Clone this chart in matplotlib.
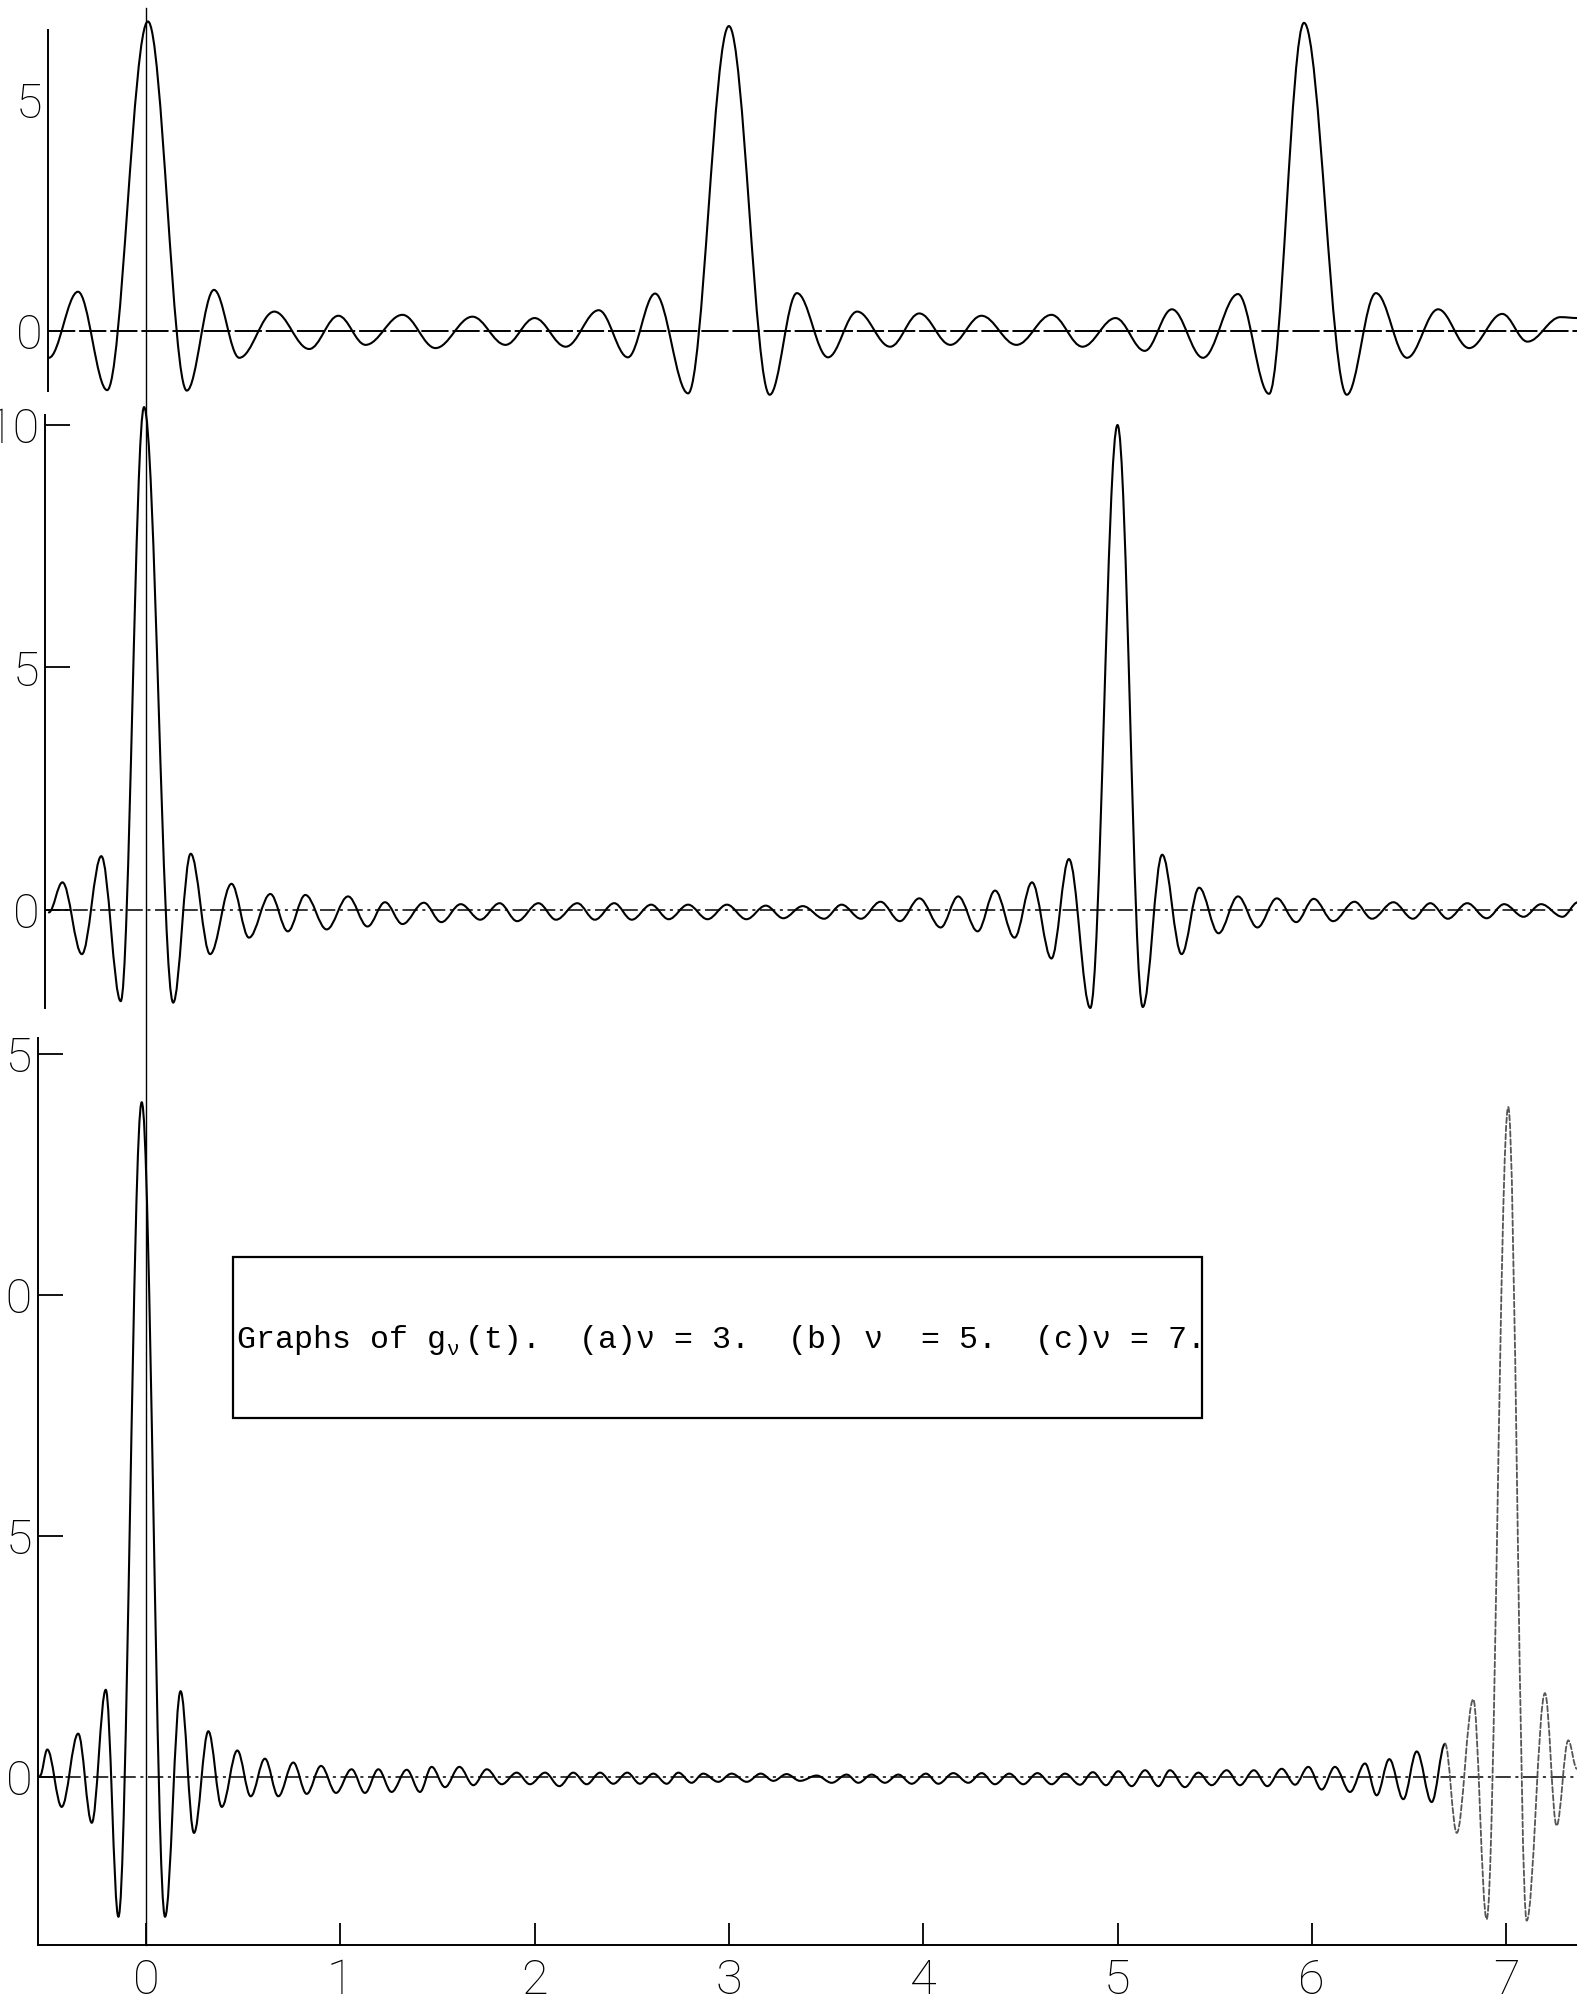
import matplotlib
matplotlib.use("Agg")
import matplotlib.pyplot as plt
import matplotlib.transforms as mtransforms
from matplotlib.path import Path
from matplotlib.patches import PathPatch, Rectangle
from matplotlib.lines import Line2D

# -------------------------
# extrema of g_nu(t) (t, value)
# (a) nu = 3
ta = [-0.50, -0.35, -0.20, 0.01, 0.21, 0.35, 0.48, 0.66, 0.84, 0.99,
      1.13, 1.32, 1.49, 1.68, 1.85, 2.00, 2.16, 2.33, 2.48, 2.62,
      2.79, 3.00, 3.21, 3.35, 3.51, 3.66, 3.83, 3.98, 4.14, 4.30,
      4.48, 4.66, 4.82, 4.99, 5.14, 5.28, 5.44, 5.62, 5.78, 5.96,
      6.18, 6.33, 6.49, 6.65, 6.81, 6.98, 7.11, 7.28, 7.37]
ga = [-0.58, 0.85, -1.28, 6.70, -1.29, 0.89, -0.58, 0.42, -0.39, 0.33,
      -0.30, 0.35, -0.37, 0.31, -0.30, 0.28, -0.34, 0.45, -0.57, 0.81,
      -1.35, 6.60, -1.38, 0.82, -0.57, 0.42, -0.34, 0.38, -0.30, 0.33,
      -0.30, 0.35, -0.34, 0.28, -0.43, 0.47, -0.58, 0.80, -1.36, 6.67,
      -1.38, 0.82, -0.58, 0.47, -0.37, 0.37, -0.23, 0.30, 0.28]

# (b) nu = 5
tb = [-0.50, -0.43, -0.33, -0.23, -0.13, -0.01, 0.14, 0.23, 0.33, 0.44,
      0.53, 0.64, 0.73, 0.82, 0.93, 1.04, 1.14, 1.23, 1.32, 1.43,
      1.52, 1.62, 1.72, 1.82, 1.91, 2.02, 2.11, 2.22, 2.31, 2.41,
      2.50, 2.60, 2.69, 2.79, 2.89, 2.99, 3.09, 3.19, 3.28, 3.38,
      3.49, 3.58, 3.68, 3.78, 3.88, 3.98, 4.09, 4.18, 4.28, 4.37,
      4.47, 4.56, 4.66, 4.75, 4.86, 5.00, 5.13, 5.23, 5.33, 5.42,
      5.52, 5.62, 5.72, 5.82, 5.92, 6.01, 6.11, 6.22, 6.31, 6.42,
      6.52, 6.61, 6.70, 6.80, 6.90, 6.99, 7.09, 7.18, 7.29, 7.37]
gb = [-0.05, 0.57, -0.91, 1.11, -1.88, 10.37, -1.91, 1.16, -0.91, 0.54,
      -0.57, 0.33, -0.44, 0.31, -0.40, 0.28, -0.34, 0.16, -0.29, 0.15,
      -0.25, 0.12, -0.20, 0.14, -0.23, 0.14, -0.20, 0.14, -0.20, 0.14,
      -0.20, 0.11, -0.19, 0.11, -0.19, 0.11, -0.19, 0.09, -0.17, 0.08,
      -0.18, 0.11, -0.18, 0.17, -0.23, 0.24, -0.36, 0.28, -0.44, 0.40,
      -0.57, 0.57, -1.00, 1.05, -2.02, 10.00, -2.00, 1.14, -0.91, 0.46,
      -0.48, 0.28, -0.36, 0.24, -0.25, 0.23, -0.23, 0.17, -0.18, 0.16,
      -0.18, 0.14, -0.18, 0.14, -0.17, 0.12, -0.14, 0.12, -0.14, 0.16]

# (c) nu = 7
tc = [-0.545, -0.508, -0.434, -0.349, -0.279, -0.207, -0.142, -0.022, 0.098, 0.178,
      0.247, 0.321, 0.390, 0.470, 0.539, 0.612, 0.681, 0.758, 0.827, 0.901,
      0.978, 1.058, 1.127, 1.196, 1.264, 1.342, 1.410, 1.470, 1.539, 1.613,
      1.685, 1.754, 1.831, 1.908, 1.976, 2.054, 2.127, 2.199, 2.268, 2.337,
      2.405, 2.477, 2.542, 2.611, 2.680, 2.740, 2.808, 2.868, 2.945, 3.014,
      3.092, 3.164, 3.229, 3.297, 3.366, 3.452, 3.529, 3.606, 3.666, 3.735,
      3.803, 3.872, 3.941, 4.014, 4.078, 4.155, 4.232, 4.301, 4.369, 4.443,
      4.515, 4.588, 4.661, 4.730, 4.807, 4.873, 4.941, 5.004, 5.073, 5.142,
      5.210, 5.270, 5.347, 5.416, 5.485, 5.562, 5.630, 5.702, 5.771, 5.845,
      5.914, 5.982, 6.051, 6.119, 6.197, 6.274, 6.334, 6.399, 6.471, 6.540,
      6.617, 6.686, 6.746, 6.831, 6.900, 7.011, 7.106, 7.200, 7.260, 7.320,
      7.364]
gc = [0.03, 0.57, -0.62, 0.90, -0.95, 1.81, -2.90, 14.00, -2.90, 1.78,
      -1.16, 0.95, -0.62, 0.55, -0.40, 0.38, -0.40, 0.30, -0.35, 0.23,
      -0.33, 0.16, -0.33, 0.16, -0.31, 0.15, -0.31, 0.21, -0.21, 0.21,
      -0.17, 0.16, -0.15, 0.09, -0.15, 0.09, -0.19, 0.09, -0.15, 0.09,
      -0.14, 0.09, -0.14, 0.07, -0.14, 0.09, -0.12, 0.07, -0.10, 0.07,
      -0.10, 0.07, -0.08, 0.06, -0.08, 0.03, -0.12, 0.05, -0.12, 0.05,
      -0.12, 0.05, -0.14, 0.07, -0.14, 0.08, -0.12, 0.08, -0.15, 0.07,
      -0.15, 0.08, -0.15, 0.07, -0.16, 0.10, -0.17, 0.12, -0.19, 0.14,
      -0.19, 0.14, -0.21, 0.09, -0.17, 0.14, -0.17, 0.14, -0.19, 0.17,
      -0.16, 0.21, -0.26, 0.21, -0.31, 0.28, -0.38, 0.37, -0.46, 0.53,
      -0.52, 0.69, -1.16, 1.61, -2.95, 13.90, -2.98, 1.74, -1.01, 0.76,
      0.17]

xticks = [0, 1, 2, 3, 4, 5, 6, 7]
yticks_a = [0, 5]
yticks_b = [0, 5, 10]
yticks_c = [0, 5, 10, 15]
caption_head = "Graphs of g"
caption_sub = "\u03bd"
caption_tail = "(t).  (a)\u03bd = 3.  (b) \u03bd  = 5.  (c)\u03bd = 7."

# -------------------------
W, H = 1577, 2001
fig = plt.figure(figsize=(W / 100, H / 100), dpi=100)

T0, PX = 146, 194.3   # pixel column of t=0, pixels per unit of t
numfont = dict(family=["Roboto", "DejaVu Sans"], weight="light", size=35)


def panel(left, top, bottom, zero, ppu):
    ax = fig.add_axes([left / W, 1 - bottom / H, (W - left) / W, (bottom - top) / H])
    ax.set_xlim((left - T0) / PX, (W - T0) / PX)
    ax.set_ylim((zero - bottom) / ppu, (zero - top) / ppu)
    ax.patch.set_visible(False)
    for s in ["top", "right", "bottom"]:
        ax.spines[s].set_visible(False)
    ax.spines["left"].set_linewidth(1.4)
    ax.tick_params(bottom=False, labelbottom=False)
    ax.tick_params(axis="y", direction="in", length=18, width=1.3, pad=4)
    return ax


def smooth(t, g):
    # cubic pieces with flat tangents at every extremum
    verts = [(t[0], g[0])]
    codes = [Path.MOVETO]
    for i in range(1, len(t)):
        d = t[i] - t[i - 1]
        verts += [(t[i - 1] + 0.36 * d, g[i - 1]), (t[i] - 0.36 * d, g[i]), (t[i], g[i])]
        codes += [Path.CURVE4] * 3
    return Path(verts, codes)


def draw(ax, t, g, **kw):
    style = dict(fill=False, lw=1.5, ec="black", clip_on=False,
                 joinstyle="round", capstyle="round", zorder=3)
    style.update(kw)
    ax.add_patch(PathPatch(smooth(t, g), **style))


# (a)
ax1 = panel(48, 30, 391, 331, 46.2)
ax1.axhline(0, color="black", lw=1.4, ls=(0, (14, 2)), zorder=1)
draw(ax1, ta, ga)
ax1.set_yticks(yticks_a)
ax1.tick_params(axis="y", length=0)

# (b)
ax2 = panel(45, 415, 1008, 910, 48.5)
ax2.axhline(0, color="black", lw=1.1, ls=(0, (10, 3, 2, 3)), zorder=1)
draw(ax2, tb, gb)
ax2.set_yticks(yticks_b)

# (c)
ax3 = panel(38, 1038, 1945, 1777, 48.2)
ax3.axhline(0, color="black", lw=1.1, ls=(0, (10, 3, 2, 3)), zorder=1)
k = tc.index(6.686)
draw(ax3, tc[:k + 1], gc[:k + 1])
draw(ax3, tc[k:], gc[k:], ec="#555555", lw=1.3, ls=(0, (3, 1.5)))
ax3.set_yticks(yticks_c)
ax3.spines["bottom"].set_visible(True)
ax3.spines["bottom"].set_linewidth(1.4)
ax3.set_xticks(xticks)
ax3.tick_params(axis="x", bottom=True, labelbottom=True, direction="in",
                length=16, width=1.3, pad=9)

for ax in (ax1, ax2, ax3):
    for lab in ax.get_xticklabels() + ax.get_yticklabels():
        lab.set(**numfont)

# t = 0 line through all three graphs
tr = mtransforms.blended_transform_factory(ax3.transData, fig.transFigure)
fig.add_artist(Line2D([0, 0], [1 - 8 / H, 1 - 1945 / H], transform=tr,
                      color="black", lw=1.0))

# caption box (typewriter, 19 px per character)
fig.add_artist(Rectangle((233 / W, 1 - 1418 / H), (1202 - 233) / W, (1418 - 1257) / H,
                         transform=fig.transFigure, fill=False, lw=1.6, ec="black"))
mono = dict(family="Liberation Mono", ha="left", va="baseline")
fig.text(237 / W, 1 - 1348 / H, caption_head, fontsize=22.8, **mono)
fig.text((237 + 11 * 19) / W, 1 - 1355 / H, caption_sub, fontsize=15, **mono)
fig.text((237 + 12 * 19) / W, 1 - 1348 / H, caption_tail, fontsize=22.8, **mono)

fig.savefig("out.png", dpi=100)
